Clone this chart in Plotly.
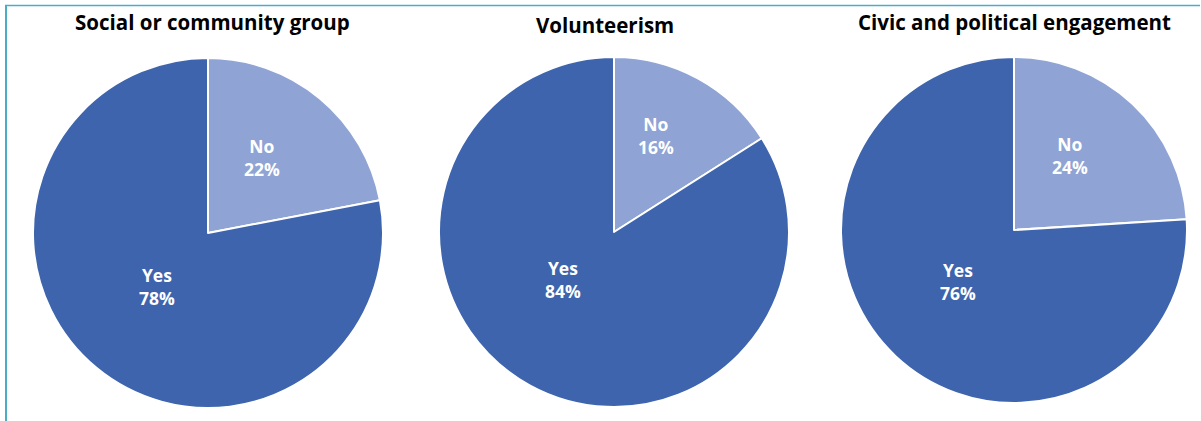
import math
import plotly.graph_objects as go

# Survey results: share of respondents answering No / Yes for each activity
titles = ["Social or community group", "Volunteerism", "Civic and political engagement"]
answers = ["No", "Yes"]
no_pct = [22, 16, 24]
yes_pct = [78, 84, 76]

W, H = 1201, 421
# pie centres and radii in pixels
centres = [(208, 233, 175), (614, 232, 175), (1014, 230, 173)]
title_pos = [(212, 22), (605, 25), (1014, 22)]

# label placement per slice: (angle nudge from slice middle in degrees, radius fraction)
label_place = [
    [(-4, 0.53), (4, 0.42)],
    [(-5, 0.60), (18, 0.40)],
    [(-6, 0.54), (4, 0.44)],
]

colors = ["#8FA3D5", "#3D64AD"]
FONT = "Open Sans"

fig = go.Figure()
for i, title in enumerate(titles):
    cx, cy, r = centres[i]
    vals = [no_pct[i], yes_pct[i]]
    fig.add_trace(go.Pie(
        labels=answers,
        values=vals,
        sort=False,
        direction="clockwise",
        rotation=0,
        marker=dict(colors=colors, line=dict(color="white", width=2)),
        textinfo="none",
        hoverinfo="skip",
        showlegend=False,
        domain=dict(x=[(cx - r) / W, (cx + r) / W],
                    y=[(H - (cy + r)) / H, (H - (cy - r)) / H]),
    ))

    # slice labels placed along each slice's middle angle (clockwise from 12 o'clock)
    total = sum(vals)
    start = 0.0
    for j, v in enumerate(vals):
        span = 360.0 * v / total
        nudge, frac = label_place[i][j]
        ang = math.radians(start + span / 2 + nudge)
        px = cx + frac * r * math.sin(ang)
        py = cy - frac * r * math.cos(ang)
        fig.add_annotation(
            x=px / W, y=1 - py / H, xref="paper", yref="paper",
            text="<b>%s<br>%d%%</b>" % (answers[j], round(100 * v / total)),
            showarrow=False, xanchor="center", yanchor="middle",
            font=dict(family=FONT, size=17.5, color="white"),
        )
        start += span

    tx, ty = title_pos[i]
    fig.add_annotation(
        x=tx / W, y=1 - ty / H, xref="paper", yref="paper",
        text="<b>" + title + "</b>", showarrow=False,
        xanchor="center", yanchor="middle",
        font=dict(family=FONT, size=20.5, color="black"),
    )

# frame lines along the left and top edges
fig.add_shape(type="line", xref="paper", yref="paper",
              x0=6 / W, x1=6 / W, y0=0, y1=1 - 5 / H,
              line=dict(color="#4BACC6", width=2))
fig.add_shape(type="line", xref="paper", yref="paper",
              x0=5 / W, x1=1200 / W, y0=1 - 5.5 / H, y1=1 - 5.5 / H,
              line=dict(color="#4BACC6", width=1.5))

fig.update_layout(
    width=W, height=H, autosize=False,
    margin=dict(l=0, r=0, t=0, b=0),
    paper_bgcolor="white", plot_bgcolor="white",
)

fig.write_html("out.html")
